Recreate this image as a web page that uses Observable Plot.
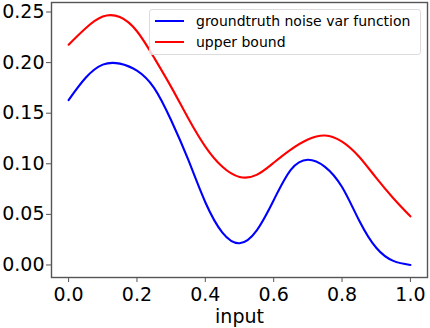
<!DOCTYPE html>
<html><head><meta charset="utf-8">
<script src="https://cdn.jsdelivr.net/npm/d3@7"></script>
<script src="https://cdn.jsdelivr.net/npm/@observablehq/plot@0.6"></script>
<style>
body{margin:0;background:#fff;font-family:"DejaVu Sans",sans-serif;}
#wrap{position:relative;width:430px;height:328px;}
#legend{position:absolute;left:149px;top:9px;width:270px;height:44px;border:1px solid #dcdcdc;border-radius:3px;background:rgba(255,255,255,0.8);font-size:14px;color:#000;}
.row{position:absolute;left:0;display:flex;align-items:center;height:20px;white-space:nowrap}
.sw{width:29px;height:2px;margin-left:5px;margin-right:12px}
</style></head><body><div id="wrap"></div>
<script>
const xs = [0.00,0.05,0.10,0.15,0.20,0.25,0.30,0.35,0.40,0.45,0.50,0.55,0.60,0.65,0.70,0.75,0.80,0.85,0.90,0.95,1.00];
const groundtruth = [0.163,0.185,0.198,0.199,0.192,0.175,0.143,0.104,0.062,0.032,0.0215,0.034,0.064,0.094,0.104,0.097,0.077,0.044,0.017,0.004,0.000];
const upperBound = [0.2177,0.234,0.2455,0.245,0.231,0.205,0.176,0.145,0.117,0.097,0.087,0.089,0.101,0.114,0.124,0.128,0.122,0.107,0.086,0.066,0.048];
const seriesNames = ["groundtruth noise var function","upper bound"];
const seriesColors = ["#0000ff","#ff0000"];
const xTicks = [0,0.2,0.4,0.6,0.8,1.0];
const yTicks = [0,0.05,0.10,0.15,0.20,0.25];
const xLabel = "input";

const rows = [];
xs.forEach((x,i)=>{
  rows.push({x, y: groundtruth[i], s: seriesNames[0]});
  rows.push({x, y: upperBound[i], s: seriesNames[1]});
});

const plot = Plot.plot({
  width:430, height:328, marginLeft:51, marginRight:3, marginTop:2, marginBottom:51,
  style:{fontFamily:"DejaVu Sans", color:"#000", background:"#fff"},
  x:{domain:[-0.05,1.05]},
  y:{domain:[-0.0124,0.2594]},
  color:{domain:seriesNames, range:seriesColors},
  marks:[
    Plot.line(rows,{x:"x",y:"y",stroke:"s",strokeWidth:2.1,curve:"natural"}),
    Plot.frame({stroke:"#555", strokeWidth:1.4}),
    Plot.axisX({ticks:xTicks, tickFormat:d3.format(".1f"), tickSize:5, tickPadding:5, fontSize:19, stroke:"#555", label:xLabel, labelAnchor:"center", labelArrow:"none", labelOffset:45}),
    Plot.axisY({ticks:yTicks, tickFormat:d3.format(".2f"), tickSize:5, tickPadding:2, fontSize:19, stroke:"#555", label:null})
  ]
});
const wrap = document.getElementById("wrap");
wrap.appendChild(plot);

const legend = document.createElement("div");
legend.id = "legend";
seriesNames.forEach((name,i)=>{
  const row = document.createElement("div");
  row.className = "row";
  row.style.top = (1 + i*21) + "px";
  const sw = document.createElement("div");
  sw.className = "sw";
  sw.style.background = seriesColors[i];
  const t = document.createElement("span");
  t.textContent = name;
  row.appendChild(sw); row.appendChild(t);
  legend.appendChild(row);
});
wrap.appendChild(legend);
</script>
</body></html>
